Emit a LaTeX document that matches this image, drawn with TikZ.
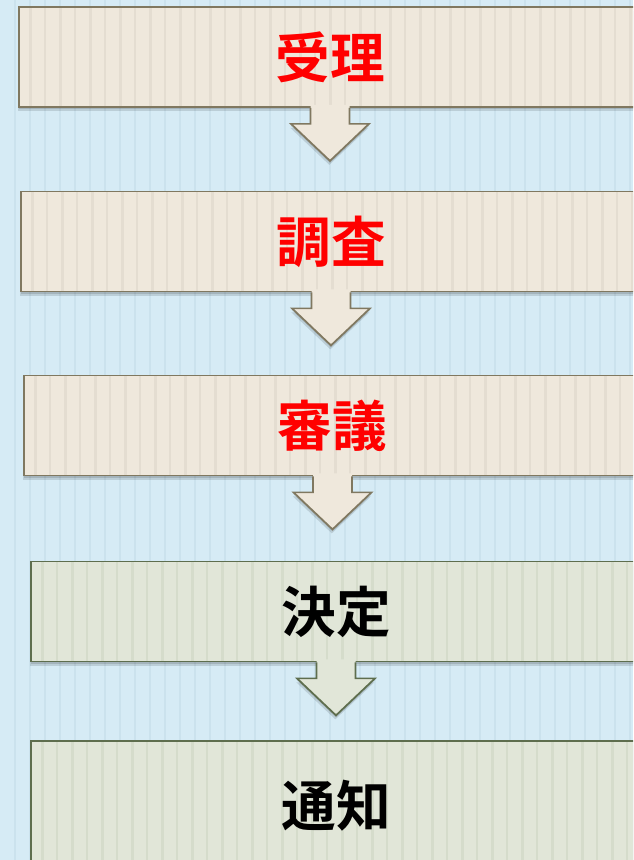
\documentclass[tikz,border=0pt]{standalone}
\usepackage{fontspec}
\newfontfamily\jpfont{Noto Sans CJK JP}[BoldFont={Noto Sans CJK JP Bold}]

\definecolor{skyBg}{RGB}{214,235,245}
\definecolor{skyStripe}{RGB}{203,226,237}
\definecolor{sandFill}{RGB}{239,232,220}
\definecolor{sandStripe}{RGB}{228,221,209}
\definecolor{sandLine}{RGB}{128,120,96}
\definecolor{sageFill}{RGB}{225,230,216}
\definecolor{sageStripe}{RGB}{213,220,203}
\definecolor{sageLine}{RGB}{94,110,78}

\tikzset{
	boxshadow/.style={
		preaction={fill=black, fill opacity=0.12, transform canvas={yshift=-1.5pt}},
		preaction={fill=black, fill opacity=0.12, transform canvas={yshift=-3pt, xshift=-0.5pt}}},
	procbox/.style={draw=#1Line, fill=#1Fill, line width=1.3pt, inner sep=0pt,
		minimum height=75pt, boxshadow, text=black,
		font=\jpfont\bfseries\fontsize{41}{43}\selectfont,
		path picture={
			\foreach \k in {0,...,21}{
				\fill[#1Stripe] ([xshift=\k*22.5pt+7.5pt]path picture bounding box.south west) rectangle ([xshift=\k*22.5pt+9.8pt]path picture bounding box.north west);
				\fill[#1Stripe] ([xshift=\k*22.5pt+19pt]path picture bounding box.south west) rectangle ([xshift=\k*22.5pt+20.2pt]path picture bounding box.north west);
			}
		}},
	redtext/.style={text=red}
}
\tikzset{every picture/.style={line width=0.75pt}}

% block arrow under a box: #1 node, #2 colour set
\newcommand\blockdown[2]{%
	\fill[#2Fill, boxshadow] (#1.south) ++(-19.5,-3) -- ++(0,19) -- ++(-19.5,0) -- ++(39,37) -- ++(39,-37) -- ++(-19.5,0) -- ++(0,-19) -- cycle ;
	\draw[#2Line, line width=1.3pt, line join=miter] (#1.south) ++(-19.5,0) -- ++(0,16) -- ++(-19.5,0) -- ++(39,37) -- ++(39,-37) -- ++(-19.5,0) -- ++(0,-16) ;
}

\begin{document}
\begin{tikzpicture}[x=0.75pt,y=0.75pt,yscale=-1,xscale=1]
	\useasboundingbox (0,0) rectangle (633,860);
	\clip (0,0) rectangle (633,860);

	%Shape: Rectangle [background]
	\fill[skyBg] (0,0) rectangle (633,860);
	\foreach \x in {15,30,...,630}
		\draw[skyStripe, line width=1pt] (\x,0) -- (\x,860);

	% Process boxes
	\node[procbox=sand, minimum width=466.5pt, redtext] (shouri) at (330,57) {受理};
	\node[procbox=sand, minimum width=465pt, redtext] (chousa) at (331,241.5) {調査};
	\node[procbox=sand, minimum width=462.75pt, redtext] (shingi) at (332.5,425.5) {審議};
	\node[procbox=sage, minimum width=457.5pt] (kettei) at (336,611.5) {決定};
	\node[procbox=sage, minimum width=457.5pt, minimum height=97pt] (tsuchi) at (336,806) {通知};

	% Block arrows
	\blockdown{shouri}{sand}
	\blockdown{chousa}{sand}
	\blockdown{shingi}{sand}
	\blockdown{kettei}{sage}

\end{tikzpicture}
\end{document}
